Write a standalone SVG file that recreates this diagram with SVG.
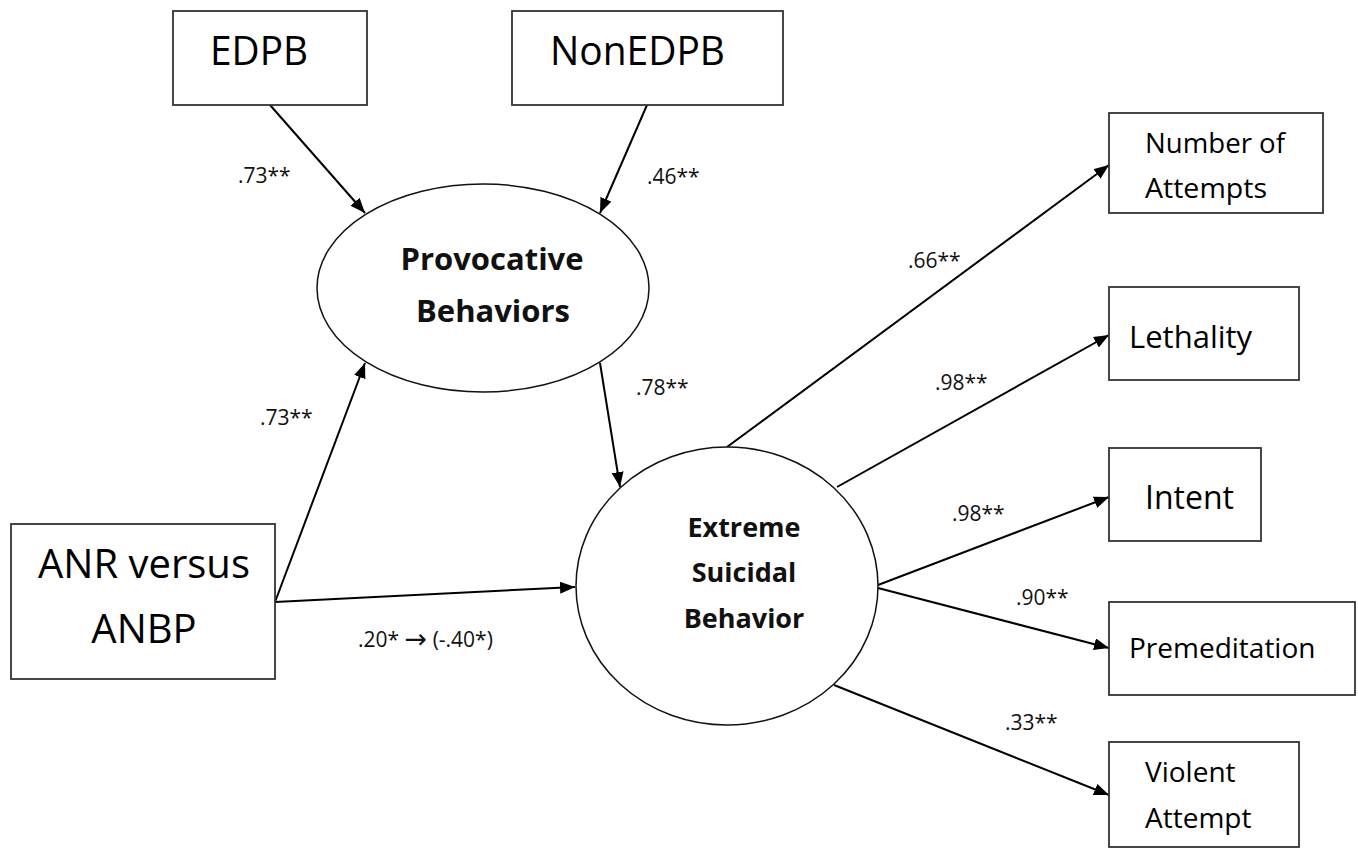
<svg xmlns="http://www.w3.org/2000/svg" width="1358" height="848" viewBox="0 0 1358 848">
<defs>
<style>
.box{fill:#fff;stroke:#333;stroke-width:1.8}
.lat{fill:#fff;stroke:#111;stroke-width:1.5}
.t{font-family:"Open Sans","Liberation Sans",sans-serif;fill:#000}
.b{font-family:"Open Sans","Liberation Sans",sans-serif;font-weight:bold;fill:#111}
.lab{font-family:"Open Sans","Liberation Sans",sans-serif;font-size:21px;fill:#111}
.arr{font-family:"DejaVu Sans",sans-serif;font-size:27px}
.c{fill:none;stroke:#000;stroke-width:2}
</style>
<marker id="ah" markerUnits="userSpaceOnUse" markerWidth="16" markerHeight="12" refX="15" refY="6" orient="auto">
<path d="M0,0 L15,6 L0,12 Z" fill="#000"/>
</marker>
</defs>
<rect width="1358" height="848" fill="#fff"/>
<g id="connectors">
<line class="c" x1="270" y1="105" x2="365" y2="213" marker-end="url(#ah)"/>
<line class="c" x1="647" y1="105" x2="600" y2="213" marker-end="url(#ah)"/>
<line class="c" x1="275" y1="602" x2="365" y2="363" marker-end="url(#ah)"/>
<line class="c" x1="275" y1="602" x2="575" y2="587" marker-end="url(#ah)"/>
<line class="c" x1="600" y1="363" x2="620" y2="487" marker-end="url(#ah)"/>
<line class="c" x1="727" y1="447" x2="1109" y2="165" marker-end="url(#ah)"/>
<line class="c" x1="837" y1="487" x2="1109" y2="335" marker-end="url(#ah)"/>
<line class="c" x1="878" y1="585" x2="1109" y2="497" marker-end="url(#ah)"/>
<line class="c" x1="878" y1="588" x2="1109" y2="648" marker-end="url(#ah)"/>
<line class="c" x1="834" y1="685" x2="1109" y2="795" marker-end="url(#ah)"/>
<text class="lab" x="238" y="183">.73**</text>
<text class="lab" x="647" y="184">.46**</text>
<text class="lab" x="260" y="425">.73**</text>
<text class="lab" x="636" y="395">.78**</text>
<text class="lab" x="358" y="647">.20* <tspan class="arr" dy="1">→</tspan><tspan dy="-1"> (-.40*)</tspan></text>
<text class="lab" x="908" y="268">.66**</text>
<text class="lab" x="935" y="390">.98**</text>
<text class="lab" x="952" y="521">.98**</text>
<text class="lab" x="1016" y="605">.90**</text>
<text class="lab" x="1005" y="730">.33**</text>
</g>
<g id="edpb">
<rect class="box" x="173" y="11" width="194" height="94"/>
<text class="t" x="210" y="65" font-size="40" textLength="98" lengthAdjust="spacingAndGlyphs">EDPB</text>
</g>
<g id="nonedpb">
<rect class="box" x="512" y="11" width="271" height="94"/>
<text class="t" x="550" y="65" font-size="40" textLength="175" lengthAdjust="spacingAndGlyphs">NonEDPB</text>
</g>
<g id="provocative">
<ellipse class="lat" cx="483" cy="288" rx="166" ry="104"/>
<text class="b" x="492" y="270" font-size="31" text-anchor="middle">Provocative</text>
<text class="b" x="493" y="322" font-size="31" text-anchor="middle">Behaviors</text>
</g>
<g id="anr">
<rect class="box" x="11" y="524" width="264" height="155"/>
<text class="t" x="144" y="578" font-size="40" text-anchor="middle">ANR versus</text>
<text class="t" x="144" y="643" font-size="40" text-anchor="middle">ANBP</text>
</g>
<g id="extreme">
<ellipse class="lat" cx="727" cy="586" rx="151" ry="139"/>
<text class="b" x="744" y="537" font-size="27" text-anchor="middle">Extreme</text>
<text class="b" x="744" y="582" font-size="27" text-anchor="middle">Suicidal</text>
<text class="b" x="744" y="628" font-size="27" text-anchor="middle">Behavior</text>
</g>
<g id="attempts">
<rect class="box" x="1109" y="113" width="214" height="100"/>
<text class="t" x="1145" y="153" font-size="28" textLength="140" lengthAdjust="spacingAndGlyphs">Number of</text>
<text class="t" x="1145" y="198" font-size="28" textLength="122" lengthAdjust="spacingAndGlyphs">Attempts</text>
</g>
<g id="lethality">
<rect class="box" x="1109" y="287" width="190" height="93"/>
<text class="t" x="1129" y="348" font-size="31">Lethality</text>
</g>
<g id="intent">
<rect class="box" x="1109" y="448" width="152" height="93"/>
<text class="t" x="1145" y="509" font-size="32">Intent</text>
</g>
<g id="premeditation">
<rect class="box" x="1109" y="602" width="246" height="93"/>
<text class="t" x="1129" y="658" font-size="28">Premeditation</text>
</g>
<g id="violent">
<rect class="box" x="1109" y="742" width="190" height="105"/>
<text class="t" x="1145" y="782" font-size="28">Violent</text>
<text class="t" x="1145" y="828" font-size="28">Attempt</text>
</g>
</svg>
